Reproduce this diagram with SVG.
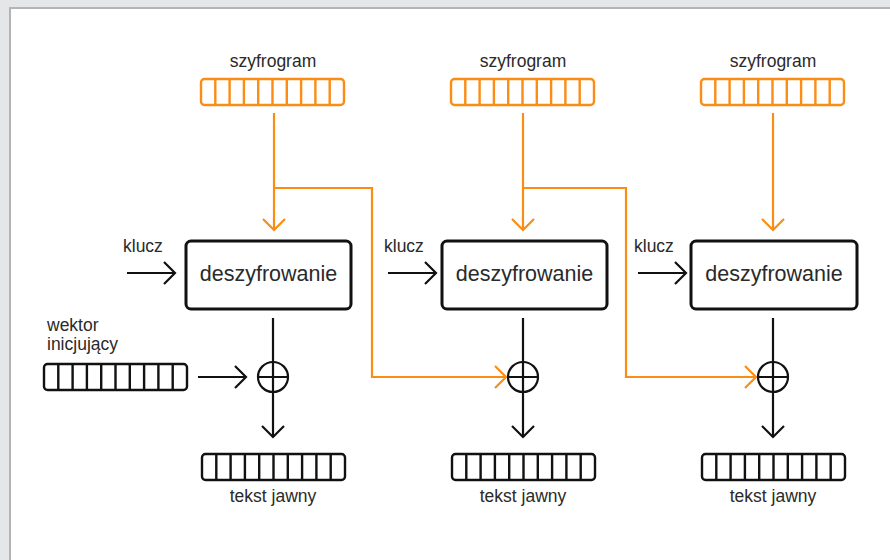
<svg xmlns="http://www.w3.org/2000/svg" width="890" height="560" viewBox="0 0 890 560">
<style>
text{font-family:"Liberation Sans",Arial,sans-serif;fill:#2a2a2a;}
.lbl{font-size:17.5px;}
.big{font-size:21.5px;text-anchor:middle;}
.reg{fill:none;stroke-width:2.4;}
.o{stroke:#fb8c14;}
.k{stroke:#111;}
.box{fill:#fff;stroke:#111;stroke-width:3;}
.ln{fill:none;stroke-width:2.2;}
.xor{fill:#fff;stroke:#111;stroke-width:2.2;}
</style>
<defs>
<marker id="ak" viewBox="-14 -14 28 28" refX="0" refY="0" markerWidth="28" markerHeight="28" markerUnits="userSpaceOnUse" orient="auto"><path d="M-11,-11 L0,0 L-11,11" fill="none" stroke="#111" stroke-width="2.2"/></marker>
<marker id="ao" viewBox="-14 -14 28 28" refX="0" refY="0" markerWidth="28" markerHeight="28" markerUnits="userSpaceOnUse" orient="auto"><path d="M-11,-11 L0,0 L-11,11" fill="none" stroke="#fb8c14" stroke-width="2.2"/></marker>
<g id="regO"><rect class="reg o" x="0" y="0" width="143" height="26" rx="3.5"/><path class="reg o" d="M14.3,0V26M28.6,0V26M42.9,0V26M57.2,0V26M71.5,0V26M85.8,0V26M100.1,0V26M114.4,0V26M128.7,0V26"/></g>
<g id="regK"><rect class="reg k" x="0" y="0" width="143" height="26" rx="3.5"/><path class="reg k" d="M14.3,0V26M28.6,0V26M42.9,0V26M57.2,0V26M71.5,0V26M85.8,0V26M100.1,0V26M114.4,0V26M128.7,0V26"/></g>
</defs>
<rect x="0" y="0" width="890" height="560" fill="#e5e6e7"/>
<rect x="10" y="8" width="900" height="600" fill="#fff" stroke="#b4b4b4" stroke-width="2"/>

<g id="connectors">
<path class="ln o" d="M274,113V230" marker-end="url(#ao)"/>
<path class="ln o" d="M523,113V230" marker-end="url(#ao)"/>
<path class="ln o" d="M773,113V230" marker-end="url(#ao)"/>
<path class="ln o" d="M274,188H372V377H506" marker-end="url(#ao)"/>
<path class="ln o" d="M523,188H626V377H756" marker-end="url(#ao)"/>
<path class="ln k" d="M127,273H175" marker-end="url(#ak)"/>
<path class="ln k" d="M388,273H436" marker-end="url(#ak)"/>
<path class="ln k" d="M638,273H686" marker-end="url(#ak)"/>
<path class="ln k" d="M198,377H246" marker-end="url(#ak)"/>
<path class="ln k" d="M273,318V437" marker-end="url(#ak)"/>
<path class="ln k" d="M523,318V437" marker-end="url(#ak)"/>
<path class="ln k" d="M773,318V437" marker-end="url(#ak)"/>
</g>

<g id="iv">
<text class="lbl" x="47" y="331">wektor</text>
<text class="lbl" x="47" y="350">inicjujący</text>
<use href="#regK" x="44" y="364"/>
</g>

<g id="col1">
<text class="lbl" x="273" y="67" text-anchor="middle">szyfrogram</text>
<use href="#regO" x="201" y="79"/>
<text class="lbl" x="123" y="252">klucz</text>
<rect class="box" x="186" y="241" width="165" height="68" rx="5"/>
<text class="big" x="268.5" y="281">deszyfrowanie</text>
<circle class="xor" cx="273" cy="377" r="15"/>
<path class="ln k" d="M273,362V392M258,377H288"/>
<use href="#regK" x="202" y="454"/>
<text class="lbl" x="273" y="502" text-anchor="middle">tekst jawny</text>
</g>

<g id="col2">
<text class="lbl" x="523" y="67" text-anchor="middle">szyfrogram</text>
<use href="#regO" x="451" y="79"/>
<text class="lbl" x="384" y="252">klucz</text>
<rect class="box" x="442" y="241" width="165" height="68" rx="5"/>
<text class="big" x="524.5" y="281">deszyfrowanie</text>
<circle class="xor" cx="523" cy="377" r="15"/>
<path class="ln k" d="M523,362V392M508,377H538"/>
<use href="#regK" x="452" y="454"/>
<text class="lbl" x="523" y="502" text-anchor="middle">tekst jawny</text>
</g>

<g id="col3">
<text class="lbl" x="773" y="67" text-anchor="middle">szyfrogram</text>
<use href="#regO" x="701" y="79"/>
<text class="lbl" x="634" y="252">klucz</text>
<rect class="box" x="691" y="241" width="166" height="68" rx="5"/>
<text class="big" x="774" y="281">deszyfrowanie</text>
<circle class="xor" cx="773" cy="377" r="15"/>
<path class="ln k" d="M773,362V392M758,377H788"/>
<use href="#regK" x="702" y="454"/>
<text class="lbl" x="773" y="502" text-anchor="middle">tekst jawny</text>
</g>
</svg>
